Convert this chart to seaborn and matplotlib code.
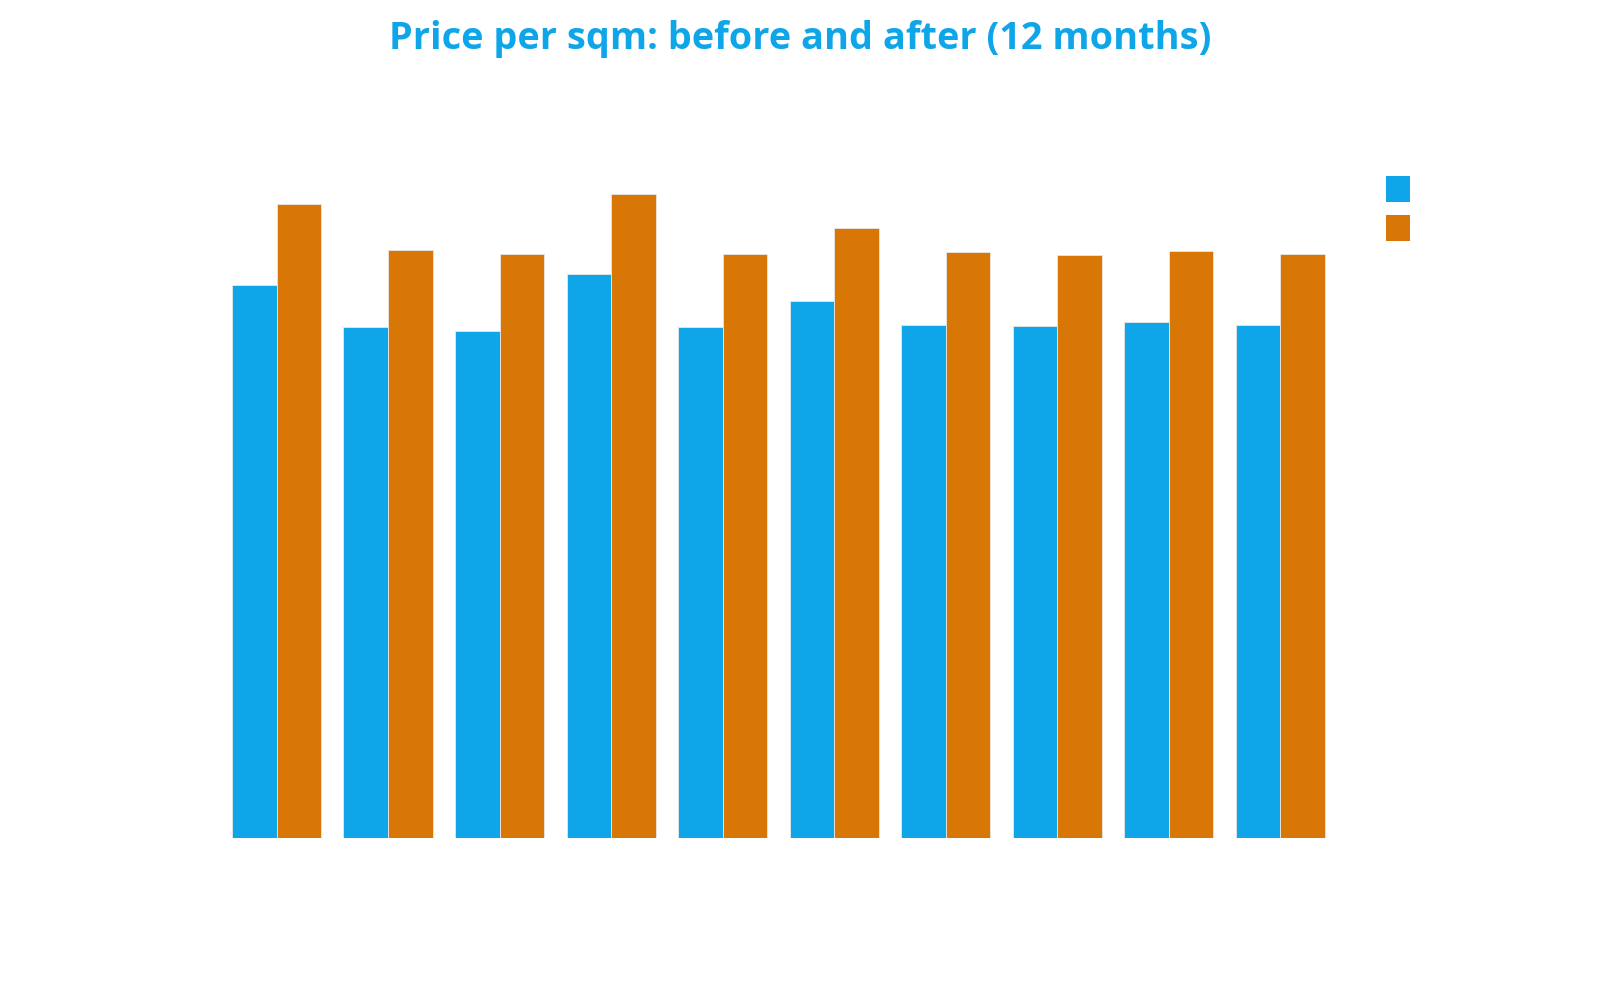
import matplotlib
matplotlib.use("Agg")
import matplotlib.pyplot as plt
import seaborn as sns
import pandas as pd
from matplotlib.patches import Patch

categories = ["Area 1", "Area 2", "Area 3", "Area 4", "Area 5",
              "Area 6", "Area 7", "Area 8", "Area 9", "Area 10"]
before = [5420, 5000, 4960, 5520, 5000, 5260, 5020, 5010, 5050, 5020]
after = [6210, 5760, 5720, 6310, 5720, 5970, 5740, 5710, 5750, 5720]
series = ["Before", "After"]
colors = ["#0EA5E9", "#D97706"]

df = pd.DataFrame({
    "category": categories * 2,
    "value": before + after,
    "period": [series[0]] * len(categories) + [series[1]] * len(categories),
})

sns.set_theme(style="white")
plt.rcParams["font.family"] = ["Open Sans", "DejaVu Sans"]

fig = plt.figure(figsize=(16, 10), dpi=100)
ax = fig.add_axes([0.138, 0.162, 0.697, 0.675])

sns.barplot(data=df, x="category", y="value", hue="period", order=categories,
            hue_order=series, palette=colors, saturation=1, width=0.8,
            edgecolor="#e8e8e8", linewidth=0.6, ax=ax, legend=False)

ax.set_xlim(-0.5, len(categories) - 0.5)
ax.set_ylim(0, 6610)
ax.set_xlabel("")
ax.set_ylabel("")
ax.set_xticks([])
ax.set_yticks([])
for s in ax.spines.values():
    s.set_visible(False)

handles = [Patch(facecolor=c, edgecolor="none") for c in colors]
leg = fig.legend(handles, ["", ""], loc="upper left",
                 bbox_to_anchor=(0.8663, 0.824), frameon=False,
                 handlelength=1.0, handleheight=1.25, labelspacing=0.5,
                 fontsize=17.5, borderaxespad=0, borderpad=0)

fig.text(0.5, 0.961, "Price per sqm: before and after (12 months)",
         ha="center", va="center", fontsize=27.3, fontweight="bold",
         color="#0EA5E9")

fig.savefig("out.png", dpi=100, facecolor="white")
